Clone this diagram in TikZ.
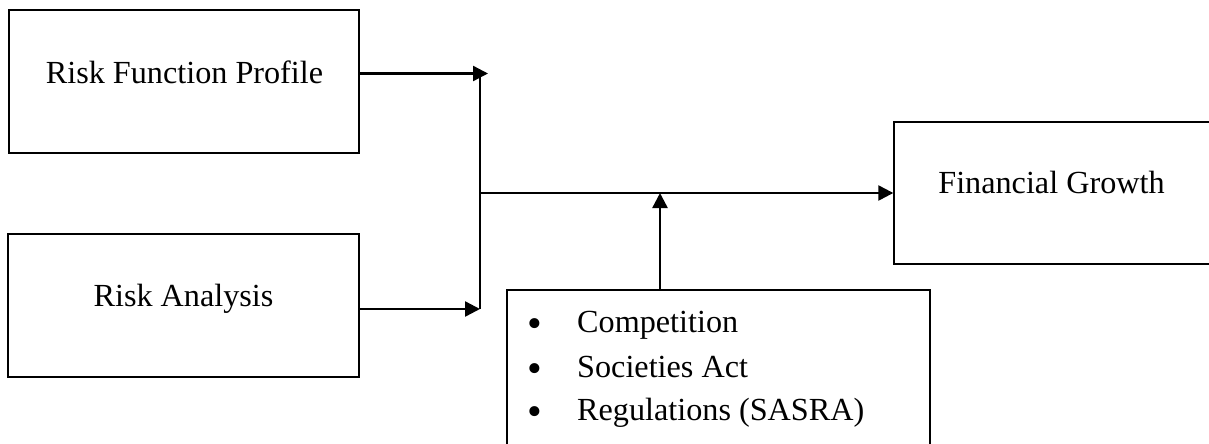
\documentclass[tikz,border=0pt]{standalone}
\usepackage{fontspec}
\setmainfont{Liberation Serif}
\usetikzlibrary{arrows.meta,calc}
\tikzset{
  boxnode/.style={draw=black, line width=1.4pt, rectangle, inner sep=0pt},
  conn/.style={draw=black, line width=2.4pt},
  arr/.style={conn, -{Triangle[length=15pt,width=15pt]}},
  lbl/.style={anchor=base, inner sep=0pt, font=\fontsize{32.2}{38}\selectfont},
  item/.style={anchor=base west, inner sep=0pt, font=\fontsize{32.2}{38}\selectfont},
  bul/.style={anchor=center, inner sep=0pt, font=\fontsize{42}{48}\selectfont},
}
\begin{document}
\begin{tikzpicture}[x=1pt,y=-1pt]
\useasboundingbox (0,0) rectangle (1209,444);
% boxes
\node[boxnode, minimum width=350pt, minimum height=143pt] (rfp) at (184,81.5) {};
\node[boxnode, minimum width=351pt, minimum height=143pt] (ra) at (183.5,305.5) {};
\node[boxnode, minimum width=316pt, minimum height=142pt] (fg) at (1052,193) {};
\node[boxnode, minimum width=423pt, minimum height=160pt] (ctx) at (718.5,370) {};
% texts
\node[lbl] (t-rfp) at (184.5,83) {Risk Function Profile};
\node[lbl] (t-ra) at (183.5,306) {Risk Analysis};
\node[lbl] (t-fg) at (1051.5,193) {Financial Growth};
\node[bul] (b1) at (535,328) {•};
\node[bul] (b2) at (535,373) {•};
\node[bul] (b3) at (535,416) {•};
\node[item] (i1) at (577,332) {Competition};
\node[item] (i2) at (577,377) {Societies Act};
\node[item] (i3) at (577,420) {Regulations (SASRA)};
% junction coordinates
\coordinate (tip1) at (488,73.5);
\coordinate (tip2) at (480,309);
\coordinate (jtop) at (480,73.5);
\coordinate (jmid) at (480,193);
\coordinate (mod) at (660,193);
% connectors
\draw[arr] (rfp.east |- tip1) -- (tip1);
\draw[arr] (ra.east |- tip2) -- (tip2);
\draw[conn] (jtop) -- (tip2);
\draw[arr] (jmid) -- (fg.west |- jmid);
\draw[arr] (ctx.north -| mod) -- (mod);
\end{tikzpicture}
\end{document}
